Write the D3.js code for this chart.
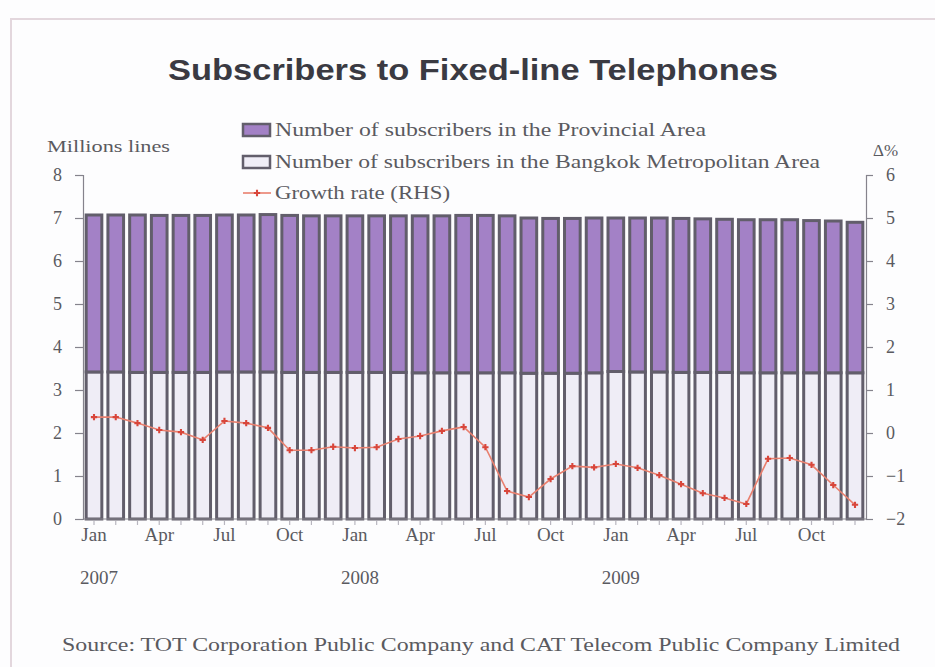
<!DOCTYPE html>
<html><head><meta charset="utf-8">
<script src="https://cdn.jsdelivr.net/npm/d3@7"></script>
<style>
html,body{margin:0;padding:0;background:#fdfdfe;}
svg{display:block;}
</style></head>
<body><svg id="c" width="935" height="667"></svg>
<script>
const months = ["Jan 2007","Feb 2007","Mar 2007","Apr 2007","May 2007","Jun 2007","Jul 2007","Aug 2007","Sep 2007","Oct 2007","Nov 2007","Dec 2007",
"Jan 2008","Feb 2008","Mar 2008","Apr 2008","May 2008","Jun 2008","Jul 2008","Aug 2008","Sep 2008","Oct 2008","Nov 2008","Dec 2008",
"Jan 2009","Feb 2009","Mar 2009","Apr 2009","May 2009","Jun 2009","Jul 2009","Aug 2009","Sep 2009","Oct 2009","Nov 2009","Dec 2009"];
const bangkok = [3.42,3.42,3.41,3.41,3.41,3.41,3.42,3.42,3.42,3.41,3.41,3.41,
3.41,3.41,3.41,3.40,3.40,3.40,3.40,3.40,3.39,3.39,3.39,3.40,
3.43,3.42,3.42,3.41,3.41,3.41,3.40,3.40,3.40,3.40,3.40,3.40];
const provincial = [3.65,3.65,3.66,3.65,3.65,3.65,3.65,3.65,3.66,3.65,3.64,3.64,
3.64,3.64,3.64,3.65,3.65,3.66,3.66,3.65,3.61,3.60,3.60,3.60,
3.57,3.58,3.58,3.58,3.57,3.56,3.56,3.56,3.56,3.54,3.53,3.50];
const growth = [0.37,0.37,0.23,0.07,0.02,-0.16,0.28,0.23,0.12,-0.40,-0.40,-0.32,
-0.35,-0.33,-0.14,-0.07,0.05,0.14,-0.33,-1.35,-1.49,-1.07,-0.77,-0.80,
-0.72,-0.81,-0.98,-1.19,-1.40,-1.51,-1.65,-0.60,-0.58,-0.74,-1.21,-1.67];
const monthTicks = ["Jan","Apr","Jul","Oct","Jan","Apr","Jul","Oct","Jan","Apr","Jul","Oct"];
const monthTickAt = ["Jan 2007","Apr 2007","Jul 2007","Oct 2007","Jan 2008","Apr 2008","Jul 2008","Oct 2008","Jan 2009","Apr 2009","Jul 2009","Oct 2009"];
const yearTicks = ["2007","2008","2009"];
const yearTickAt = ["Jan 2007","Jan 2008","Jan 2009"];
const leftTicks = [0,1,2,3,4,5,6,7,8];
const rightTicks = [-2,-1,0,1,2,3,4,5,6];
const legendLabels = ["Number of subscribers in the Provincial Area","Number of subscribers in the Bangkok Metropolitan Area","Growth rate (RHS)"];

const svg = d3.select("#c");
const serif = "'Liberation Serif','DejaVu Serif',serif";
const txt = "#5a5a60";

// frame
svg.append("rect").attr("x",11).attr("y",19).attr("width",940).attr("height",700)
  .attr("fill","#fdfdfe").attr("stroke","#e3d7dd").attr("stroke-width",2);

// title
svg.append("text").attr("x",473).attr("y",80).attr("text-anchor","middle")
  .attr("font-family","'Liberation Sans',Arial,sans-serif").attr("font-weight","bold")
  .attr("font-size",29).attr("fill","#3a3a42")
  .attr("textLength",610).attr("lengthAdjust","spacingAndGlyphs")
  .text("Subscribers to Fixed-line Telephones");

const x = d3.scaleBand().domain(months).range([84,865]).paddingInner(0.28).paddingOuter(0.1);
const yL = d3.scaleLinear().domain([0,8]).range([519,175]);
const yR = d3.scaleLinear().domain([-2,6]).range([519,175]);

const purple = "#a381c6", light = "#efedf6", edge = "#625e6b";

// bars
const g = svg.append("g");
months.forEach((m,i)=>{
  const b = bangkok[i], p = provincial[i];
  g.append("rect").attr("x",x(m)).attr("width",x.bandwidth())
    .attr("y",yL(b)).attr("height",yL(0)-yL(b))
    .attr("fill",light).attr("stroke",edge).attr("stroke-width",3);
  g.append("rect").attr("x",x(m)).attr("width",x.bandwidth())
    .attr("y",yL(b+p)).attr("height",yL(b)-yL(b+p))
    .attr("fill",purple).attr("stroke",edge).attr("stroke-width",3);
});

// axes
const axL = svg.append("g").attr("transform","translate(83,0)")
  .call(d3.axisLeft(yL).tickValues(leftTicks).tickSize(8).tickFormat(d3.format("d")));
const axR = svg.append("g").attr("transform","translate(866,0)")
  .call(d3.axisRight(yR).tickValues(rightTicks).tickSize(7).tickFormat(d3.format("d")));
const axB = svg.append("g").attr("transform","translate(0,519)")
  .call(d3.axisBottom(x).tickSize(4).tickFormat(""));
[axL,axR,axB].forEach(a=>{
  a.attr("font-size",null).attr("font-family",null);
  a.selectAll("path,line").attr("stroke","#85838c").attr("stroke-width",1.2);
  a.selectAll("text").attr("font-family",serif).attr("font-size",18).attr("fill",txt);
});
axL.selectAll("text").attr("x",-21);
axR.selectAll("text").attr("x",20);
axB.select(".domain").attr("d","M83,0H866");
axB.selectAll(".tick line").attr("stroke","#b8b6bf").attr("y1",2).attr("y2",6);

// growth line
const line = d3.line().x((d,i)=>x(months[i])+x.bandwidth()/2).y(d=>yR(d));
svg.append("path").datum(growth).attr("d",line).attr("fill","none")
  .attr("stroke","#e9806f").attr("stroke-width",1.6);
svg.selectAll(".pt").data(growth).enter().append("path").attr("class","pt")
  .attr("transform",(d,i)=>`translate(${x(months[i])+x.bandwidth()/2},${yR(d)})`)
  .attr("d",d3.symbol(d3.symbolCross,22)).attr("fill","#d8463b");

// x labels
svg.selectAll(".ml").data(monthTicks).enter().append("text")
  .attr("x",(d,i)=>x(monthTickAt[i])+x.bandwidth()/2).attr("y",541)
  .attr("text-anchor","middle").attr("font-family",serif).attr("font-size",19).attr("fill",txt).text(d=>d);
svg.selectAll(".yl").data(yearTicks).enter().append("text")
  .attr("x",(d,i)=>x(yearTickAt[i])+x.bandwidth()/2+5).attr("y",584)
  .attr("text-anchor","middle").attr("font-family",serif).attr("font-size",19).attr("fill",txt).text(d=>d);

// axis titles
svg.append("text").attr("x",47).attr("y",152).attr("font-family",serif).attr("font-size",17)
  .attr("fill",txt).attr("textLength",123).attr("lengthAdjust","spacingAndGlyphs").text("Millions lines");
svg.append("text").attr("x",873).attr("y",156).attr("font-family",serif).attr("font-size",17)
  .attr("fill",txt).text("Δ%");

// legend
const legY = [130,162,193];
const legW = [431,545,175];
svg.append("rect").attr("x",243).attr("y",legY[0]-6).attr("width",27).attr("height",12)
  .attr("fill",purple).attr("stroke",edge).attr("stroke-width",2.5);
svg.append("rect").attr("x",243).attr("y",legY[1]-6).attr("width",27).attr("height",12)
  .attr("fill",light).attr("stroke",edge).attr("stroke-width",2.5);
svg.append("line").attr("x1",243).attr("x2",271).attr("y1",legY[2]).attr("y2",legY[2])
  .attr("stroke","#e9806f").attr("stroke-width",1.6);
svg.append("path").attr("transform",`translate(257,${legY[2]})`)
  .attr("d",d3.symbol(d3.symbolCross,22)).attr("fill","#d8463b");
legendLabels.forEach((t,i)=>{
  svg.append("text").attr("x",275).attr("y",legY[i]+6).attr("font-family",serif)
    .attr("font-size",18).attr("fill",txt)
    .attr("textLength",legW[i]).attr("lengthAdjust","spacingAndGlyphs").text(t);
});

// source
svg.append("text").attr("x",62).attr("y",651).attr("font-family",serif).attr("font-size",18)
  .attr("fill",txt).attr("textLength",838).attr("lengthAdjust","spacingAndGlyphs")
  .text("Source: TOT Corporation Public Company and CAT Telecom Public Company Limited");
</script></body></html>
